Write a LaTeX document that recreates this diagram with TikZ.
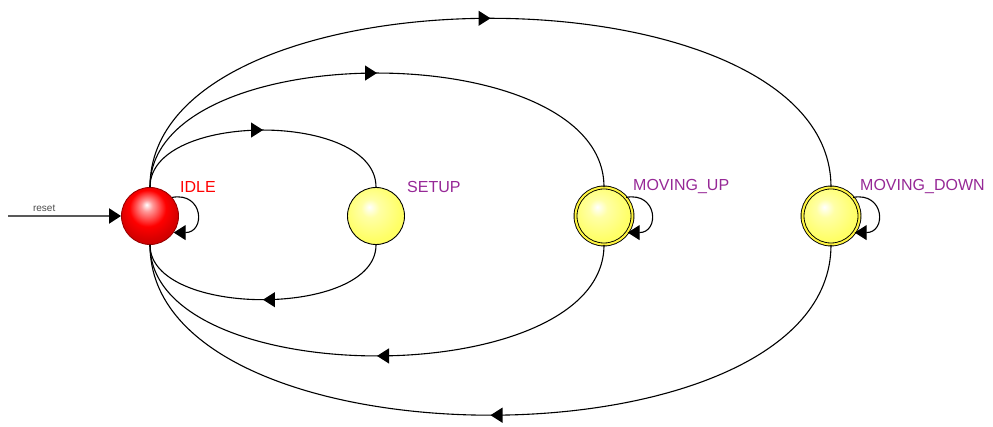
\documentclass[tikz,border=0pt]{standalone}
\usepackage{fontspec}
\setmainfont{Liberation Sans}
\usetikzlibrary{arrows.meta,decorations.markings}

\definecolor{labelpurple}{RGB}{150,40,150}
\pgfdeclareradialshading{redball}{\pgfpoint{-3bp}{10bp}}{color(0bp)=(white); color(5bp)=(red!40!white); color(16bp)=(red); color(25bp)=(red!85!black); color(50bp)=(red!60!black)}
\pgfdeclareradialshading{yellowball}{\pgfpoint{-6bp}{8bp}}{color(0bp)=(white); color(8bp)=(yellow!35!white); color(25bp)=(yellow!60!white); color(50bp)=(yellow!75!white)}

\tikzset{
  state/.style={circle, draw=black, line width=0.9pt, minimum size=57pt, inner sep=0pt},
  idle ball/.style={state, shade, shading=redball, draw=red!60!black},
  plain ball/.style={state, shade, shading=yellowball},
  final ball/.style={state, shade, shading=yellowball, double=yellow!75!white, double distance=2pt, line width=0.9pt},
  state text/.style={font=\fontsize{16}{18}\selectfont, text=labelpurple, inner sep=0pt, anchor=west},
  trans/.style={line width=1.1pt, postaction={decorate},
    decoration={markings, mark=at position 0.5 with {\arrow{Triangle[length=12pt,width=15pt]}}}},
  self loop/.style={line width=1.1pt, -{Triangle[length=12pt,width=15pt]}},
  reset line/.style={line width=2pt, gray!70!black, -{Triangle[length=12pt,width=15pt,color=black]}}
}

\begin{document}
\begin{tikzpicture}[x=1pt, y=1pt]
  \useasboundingbox (0,0) rectangle (993,427);
  % states
  \node[idle ball] (IDLE) at (150,211) {};
  \node[plain ball] (SETUP) at (376,211) {};
  \node[final ball] (UP) at (604,211) {};
  \node[final ball] (DOWN) at (831,211) {};
  % state names
  \node[state text, text=red] (IDLE_text) at ([shift={(30,29)}]IDLE.center) {IDLE};
  \node[state text] (SETUP_text) at ([shift={(31,29)}]SETUP.center) {SETUP};
  \node[state text] (UP_text) at ([shift={(29,29)}]UP.center) {MOVING\_UP};
  \node[state text] (DOWN_text) at ([shift={(29,29)}]DOWN.center) {MOVING\_DOWN};
  % reset arrow
  \coordinate (reset_start) at (8,211);
  \draw[reset line] (reset_start) -- node[pos=0.32, above=3pt, font=\fontsize{10}{12}\selectfont, text=gray!60!black, inner sep=0pt] (reset_text) {reset} (IDLE.west);
  % IDLE <-> SETUP
  \draw[trans] (IDLE.north) .. controls +(0,76) and +(0,76) .. (SETUP.north);
  \draw[trans] (SETUP.south) .. controls +(0,-73) and +(0,-73) .. (IDLE.south);
  % IDLE <-> MOVING_UP
  \draw[trans] (IDLE.north) .. controls +(0,152) and +(0,152) .. (UP.north);
  \draw[trans] (UP.south) .. controls +(0,-148) and +(0,-148) .. (IDLE.south);
  % IDLE <-> MOVING_DOWN
  \draw[trans] (IDLE.north) .. controls +(0,225) and +(0,225) .. (DOWN.north);
  \draw[trans] (DOWN.south) .. controls +(0,-227) and +(0,-227) .. (IDLE.south);
  % self loops
  \draw[self loop] (IDLE.40) .. controls +(10:32) and +(0:32) .. (IDLE.-35);
  \draw[self loop] (UP.40) .. controls +(10:32) and +(0:32) .. (UP.-35);
  \draw[self loop] (DOWN.40) .. controls +(10:32) and +(0:32) .. (DOWN.-35);
\end{tikzpicture}
\end{document}
